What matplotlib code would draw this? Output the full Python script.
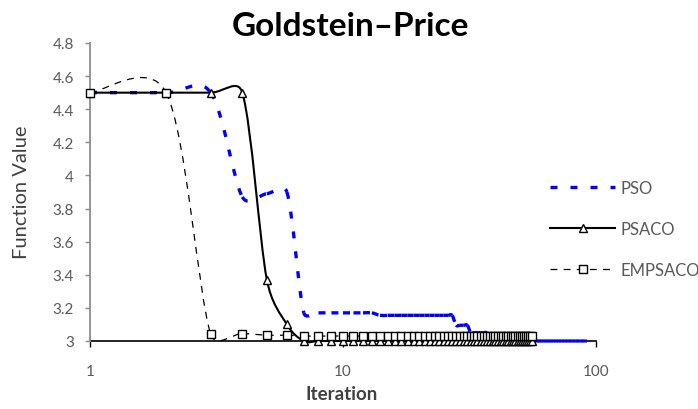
import numpy as np
import matplotlib
matplotlib.use("Agg")
import matplotlib.pyplot as plt
from matplotlib.path import Path
from matplotlib.collections import PathCollection
from matplotlib.lines import Line2D

plt.rcParams['font.family'] = ['Lato', 'DejaVu Sans']

# ---- data -------------------------------------------------------------
title = "Goldstein\u2013Price"
x_label = "Iteration"
y_label = "Function Value"
series_names = ["PSO", "PSACO", "EMPSACO"]

pso_iter = list(range(1, 93))
pso_values = [
    4.50, 4.50, 4.50, 3.87, 3.89, 3.90, 3.17, 3.17, 3.17, 3.17,
    3.17, 3.17, 3.17, 3.155, 3.155, 3.155, 3.155, 3.155, 3.155, 3.155,
    3.155, 3.155, 3.155, 3.155, 3.155, 3.155, 3.155, 3.095, 3.095, 3.095,
    3.095, 3.05, 3.05, 3.05, 3.05, 3.05, 3.05, 3.02, 3.02, 3.02,
    3.02, 3.02, 3.02, 3.02, 3.02, 3.02, 3.01, 3.01, 3.01, 3.01,
    3.01, 3.01, 3.01, 3.01, 3.01, 3.00, 3.00, 3.00, 3.00, 3.00,
    3.00, 3.00, 3.00, 3.00, 3.00, 3.00, 3.00, 3.00, 3.00, 3.00,
    3.00, 3.00, 3.00, 3.00, 3.00, 3.00, 3.00, 3.00, 3.00, 3.00,
    3.00, 3.00, 3.00, 3.00, 3.00, 3.00, 3.00, 3.00, 3.00, 3.00,
    3.00, 3.00,
]

psaco_iter = list(range(1, 57))
psaco_values = [
    4.50, 4.50, 4.50, 4.50, 3.37, 3.10, 3.00, 3.00, 3.00, 3.00,
    3.00, 3.00, 3.00, 3.00, 3.00, 3.00, 3.00, 3.00, 3.00, 3.00,
    3.00, 3.00, 3.00, 3.00, 3.00, 3.00, 3.00, 3.00, 3.00, 3.00,
    3.00, 3.00, 3.00, 3.00, 3.00, 3.00, 3.00, 3.00, 3.00, 3.00,
    3.00, 3.00, 3.00, 3.00, 3.00, 3.00, 3.00, 3.00, 3.00, 3.00,
    3.00, 3.00, 3.00, 3.00, 3.00, 3.00,
]

empsaco_iter = list(range(1, 57))
empsaco_values = [
    4.50, 4.50, 3.04, 3.045, 3.035, 3.035, 3.03, 3.03, 3.03, 3.03,
    3.03, 3.03, 3.03, 3.03, 3.03, 3.03, 3.03, 3.03, 3.03, 3.03,
    3.03, 3.03, 3.03, 3.03, 3.03, 3.03, 3.03, 3.03, 3.03, 3.03,
    3.03, 3.03, 3.03, 3.03, 3.03, 3.03, 3.03, 3.03, 3.03, 3.03,
    3.03, 3.03, 3.03, 3.03, 3.03, 3.03, 3.03, 3.03, 3.03, 3.03,
    3.03, 3.03, 3.03, 3.03, 3.03, 3.03,
]

y_ticks = [3.0, 3.2, 3.4, 3.6, 3.8, 4.0, 4.2, 4.4, 4.6, 4.8]
y_tick_labels = ["3", "3.2", "3.4", "3.6", "3.8", "4", "4.2", "4.4", "4.6", "4.8"]
x_ticks = [1, 10, 100]
x_tick_labels = ["1", "10", "100"]

# ---- figure -----------------------------------------------------------
W, H = 698, 410
fig = plt.figure(figsize=(W / 100, H / 100), dpi=100)
ax = fig.add_axes([90 / W, 1 - 342 / H, (596 - 90) / W, (342 - 44) / H])
ax.set_xscale('log')
ax.set_xlim(1, 100)
ax.set_ylim(3, 4.8)

TICK_GREY = '#595959'
AXIS_GREY = '#8c8c8c'

for s in ('top', 'right'):
    ax.spines[s].set_visible(False)
ax.spines['left'].set_color(AXIS_GREY)
ax.spines['left'].set_linewidth(1.3)
ax.spines['bottom'].set_color('black')
ax.spines['bottom'].set_linewidth(1.2)
ax.spines['bottom'].set_zorder(1)

ax.set_yticks(y_ticks)
ax.set_yticklabels(y_tick_labels)
ax.set_xticks(x_ticks)
ax.set_xticklabels(x_tick_labels)
ax.xaxis.set_minor_locator(matplotlib.ticker.NullLocator())
ax.tick_params(axis='y', direction='out', length=3.6, width=1.0, color=AXIS_GREY,
               labelcolor=TICK_GREY, labelsize=11, pad=8)
ax.tick_params(axis='x', direction='out', length=4.5, width=1.0, color='black',
               labelcolor=TICK_GREY, labelsize=11, pad=12)


def smooth_paths(xv, yv):
    """Bezier segments through the points, built in display space with
    Catmull-Rom tangents whose arms are capped at half the segment."""
    P = ax.transData.transform(np.column_stack([xv, yv]))
    inv = ax.transData.inverted()
    n = len(P)
    paths = []
    for i in range(n - 1):
        p1, p2 = P[i], P[i + 1]
        p0 = P[i - 1] if i > 0 else p1
        p3 = P[i + 2] if i + 2 < n else p2
        seg = np.hypot(*(p2 - p1))
        t1 = (p2 - p0) / 6.0
        t2 = (p3 - p1) / 6.0
        for t in (t1, t2):
            ln = np.hypot(*t)
            if ln > seg / 2 and ln > 0:
                t *= (seg / 2) / ln
        verts = inv.transform(np.array([p1, p1 + t1, p2 - t2, p2]))
        paths.append(Path(verts, [Path.MOVETO, Path.CURVE4, Path.CURVE4, Path.CURVE4]))
    return paths


BLUE = '#0000ff'
pso_dash = (0, (2.1, 3.9))
emp_dash = (0, (5.5, 5.0))

c_pso = PathCollection(smooth_paths(pso_iter, pso_values), facecolors='none',
                       edgecolors=BLUE, linewidths=2.4, linestyles=[pso_dash],
                       transform=ax.transData, zorder=2, clip_on=False)
ax.add_collection(c_pso)

c_psaco = PathCollection(smooth_paths(psaco_iter, psaco_values), facecolors='none',
                         edgecolors='black', linewidths=1.5, linestyles='solid',
                         transform=ax.transData, zorder=3, clip_on=False)
ax.add_collection(c_psaco)
ax.plot(psaco_iter, psaco_values, ls='none', marker='^', ms=6, mfc='white',
        mec='black', mew=1.0, clip_on=False, zorder=3.1)

c_emp = PathCollection(smooth_paths(empsaco_iter, empsaco_values), facecolors='none',
                       edgecolors='black', linewidths=0.9, linestyles=[emp_dash],
                       transform=ax.transData, zorder=4, clip_on=False)
ax.add_collection(c_emp)
ax.plot(empsaco_iter, empsaco_values, ls='none', marker='s', ms=5.5, mfc='white',
        mec='black', mew=1.0, clip_on=False, zorder=4.1)

ax.set_xlim(1, 100)
ax.set_ylim(3, 4.8)

# ---- texts ------------------------------------------------------------
fig.text(350 / W, 1 - 27 / H, title, ha='center', va='center',
         fontsize=24, fontweight='bold', color='black')
fig.text(22 / W, 1 - 192 / H, y_label, ha='center', va='center', rotation=90,
         fontsize=14.5, color='#404040')
fig.text(342 / W, 1 - 395 / H, x_label, ha='center', va='center',
         fontsize=13.5, fontweight='bold', color='#404040')

# ---- legend -----------------------------------------------------------
handles = [
    Line2D([], [], color=BLUE, lw=2.4, linestyle=pso_dash),
    Line2D([], [], color='black', lw=1.5, marker='^', ms=6, mfc='white', mec='black'),
    Line2D([], [], color='black', lw=0.9, linestyle=emp_dash, marker='s', ms=5.5,
           mfc='white', mec='black'),
]
fig.legend(handles, series_names, loc='upper left',
           bbox_to_anchor=(550 / W, 1 - 181 / H), frameon=False, fontsize=12,
           handlelength=3.9, handletextpad=0.3, labelspacing=1.5, numpoints=1,
           borderpad=0, borderaxespad=0, labelcolor=TICK_GREY)

fig.savefig('out.png', dpi=100)
